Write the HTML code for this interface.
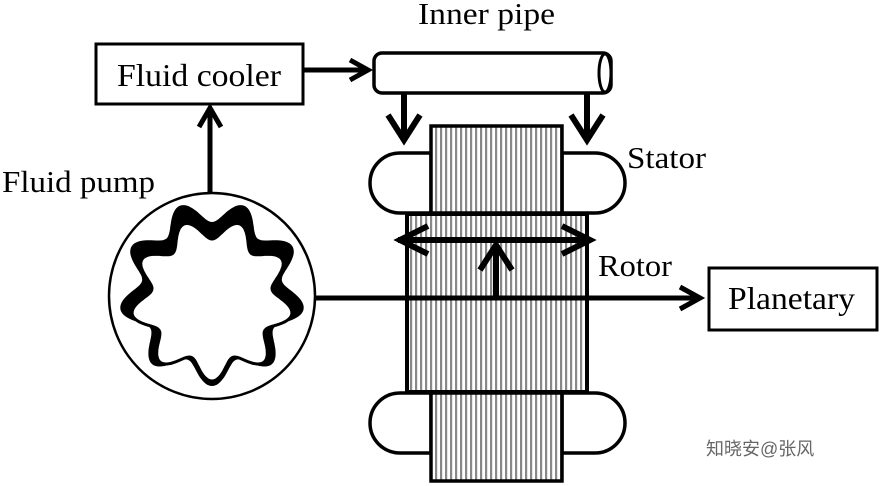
<!DOCTYPE html>
<html><head><meta charset="utf-8"><style>
html,body{margin:0;padding:0;background:#fff;width:887px;height:486px;overflow:hidden}
text{font-family:"Liberation Serif",serif;fill:#000}
</style></head><body>
<svg id="s" width="887" height="486" viewBox="0 0 887 486" xmlns="http://www.w3.org/2000/svg">
<defs>
<pattern id="h" width="5" height="10" patternUnits="userSpaceOnUse">
<rect width="5" height="10" fill="#fff"/><rect width="2.2" height="10" fill="#888"/>
</pattern>
</defs>
<text x="418" y="24" font-size="31" textLength="137" lengthAdjust="spacingAndGlyphs">Inner pipe</text>
<text x="2" y="192" font-size="31" textLength="153" lengthAdjust="spacingAndGlyphs">Fluid pump</text>
<text x="627" y="168" font-size="31" textLength="79" lengthAdjust="spacingAndGlyphs">Stator</text>
<text x="598" y="276" font-size="31" textLength="74" lengthAdjust="spacingAndGlyphs">Rotor</text>
<rect x="96" y="44" width="207" height="60" fill="#fff" stroke="#000" stroke-width="3"/>
<text x="117" y="86" font-size="32" textLength="164" lengthAdjust="spacingAndGlyphs">Fluid cooler</text>
<rect x="709" y="268" width="168" height="62" fill="#fff" stroke="#000" stroke-width="3"/>
<text x="728" y="309" font-size="32" textLength="127" lengthAdjust="spacingAndGlyphs">Planetary</text>
<line x1="303" y1="70" x2="366" y2="70" stroke="#000" stroke-width="5"/>
<polyline points="350,60 368,70 350,80" fill="none" stroke="#000" stroke-width="5"/>
<rect x="374" y="53" width="237" height="40" rx="8" fill="#fff" stroke="#000" stroke-width="3.5"/>
<ellipse cx="605" cy="73" rx="6" ry="19" fill="#fff" stroke="#000" stroke-width="3"/>
<g stroke="#000" stroke-width="6" fill="none">
<line x1="404" y1="93" x2="404" y2="140"/><polyline points="388,115 404,140 420,115"/>
<line x1="587" y1="93" x2="587" y2="140"/><polyline points="571,115 587,140 603,115"/>
</g>
<path d="M431,153 H400 A30,30 0 0 0 400,213 H431 Z" fill="#fff" stroke="#000" stroke-width="3.5"/>
<path d="M562,153 H595 A30,30 0 0 1 595,213 H562 Z" fill="#fff" stroke="#000" stroke-width="3.5"/>
<rect x="431" y="126" width="131" height="87" fill="url(#h)" stroke="#000" stroke-width="3.5"/>
<path d="M431,393 H400 A30,30 0 0 0 400,453 H431 Z" fill="#fff" stroke="#000" stroke-width="3.5"/>
<path d="M562,393 H595 A30,30 0 0 1 595,453 H562 Z" fill="#fff" stroke="#000" stroke-width="3.5"/>
<rect x="431" y="393" width="131" height="88" fill="url(#h)" stroke="#000" stroke-width="3.5"/>
<rect x="407" y="214" width="180" height="178" fill="url(#h)" stroke="#000" stroke-width="4"/>
<g stroke="#000" stroke-width="6" fill="none">
<line x1="398" y1="240" x2="590" y2="240"/>
<polyline points="428,226 400,240 428,254"/>
<polyline points="562,226 590,240 562,254"/>
<line x1="496" y1="298" x2="496" y2="247"/>
<polyline points="480,270 496,245 512,270"/>
</g>
<line x1="314" y1="298" x2="696" y2="298" stroke="#000" stroke-width="5"/>
<polyline points="680,287 700,298 680,309" fill="none" stroke="#000" stroke-width="5"/>
<line x1="210" y1="192" x2="210" y2="112" stroke="#000" stroke-width="5"/>
<polyline points="199,127 210,108 221,127" fill="none" stroke="#000" stroke-width="5"/>
<circle cx="212" cy="296" r="103" fill="#fff" stroke="#000" stroke-width="2.5"/>
<path id="outer" fill="#000"/>
<path id="inner" fill="#fff" stroke="#000" stroke-width="3"/>
<text x="706" y="455" font-size="18" style="font-family:'Liberation Sans','Noto Sans CJK SC',sans-serif;fill:#666">知晓安@张风</text>
</svg>
<script>
function g(cx,cy,R,A,n,ph){var d="";for(var i=0;i<360;i++){var t=i*Math.PI/180;var r=R+A*Math.cos(n*t+ph);var x=cx+r*Math.sin(t),y=cy-r*Math.cos(t);d+=(i?"L":"M")+x.toFixed(1)+","+y.toFixed(1);}return d+"Z";}
document.getElementById("outer").setAttribute("d",g(212,293,82,11,9,Math.PI));
document.getElementById("inner").setAttribute("d",g(212,300,71,10,9,Math.PI));
</script>
</body></html>
